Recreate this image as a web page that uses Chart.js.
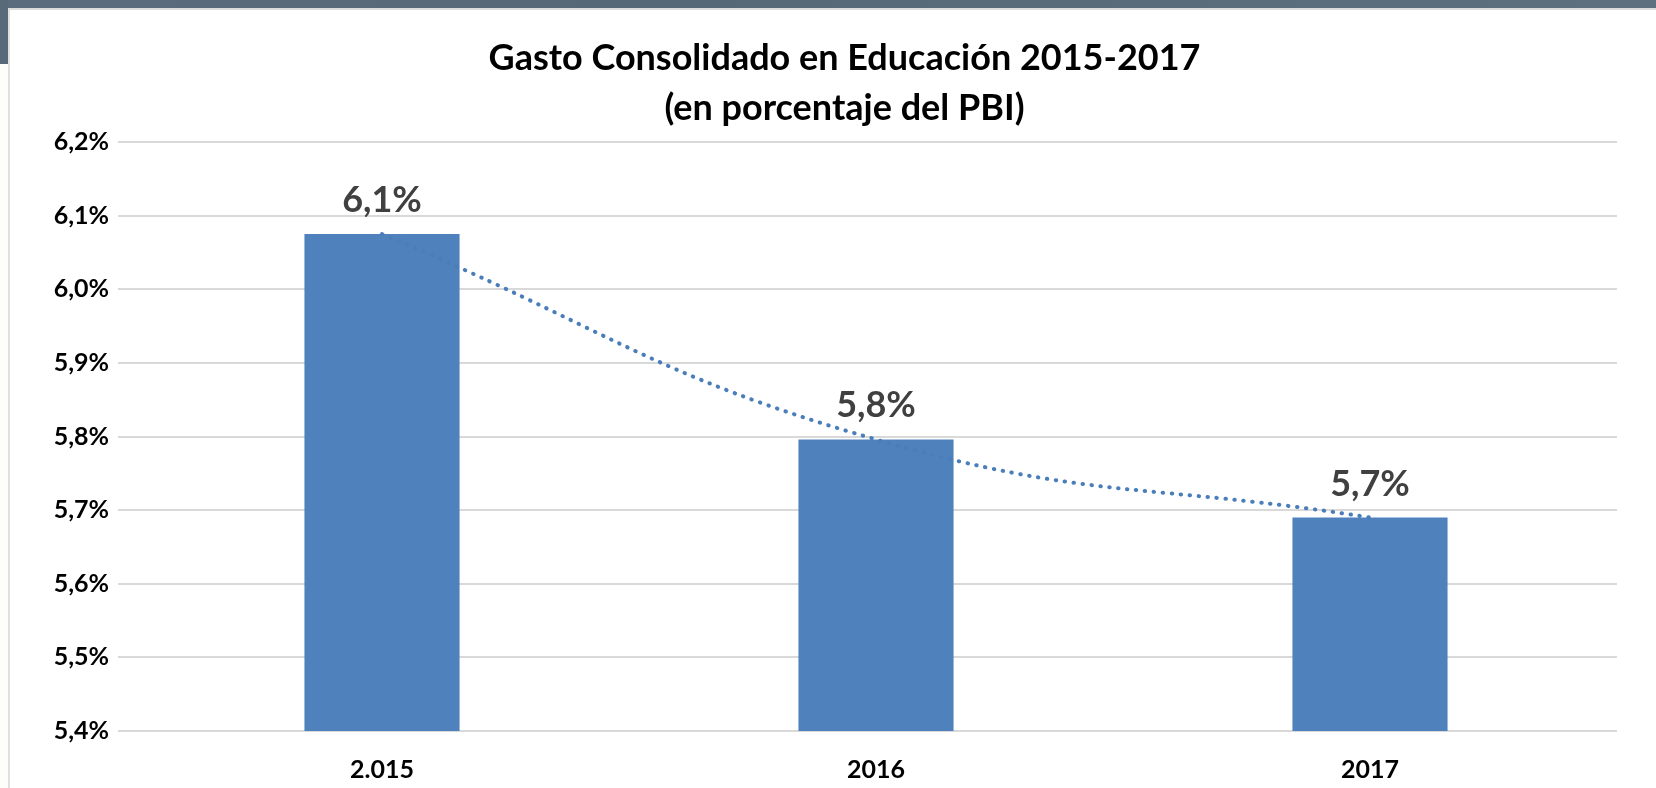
<!DOCTYPE html>
<html>
<head>
<meta charset="utf-8">
<script src="https://cdn.jsdelivr.net/npm/chart.js@4/dist/chart.umd.min.js"></script>
<style>
  html, body { margin: 0; padding: 0; background: #fdfdfb; }
  .wrap { position: relative; width: 1656px; height: 788px; overflow: hidden; }
  .topbar { position: absolute; left: 0; top: 0; width: 1656px; height: 8px; background: linear-gradient(90deg, #5a6c7d, #556878 40%, #5d7080); }
  .sidebar { position: absolute; left: 0; top: 0; width: 8px; height: 64px; background: #58697a; }
  .frame { position: absolute; left: 8px; top: 8px; right: -4px; bottom: -4px; background: #fff; border-left: 2px solid #e0e0e0; border-top: 2px solid #dcdcdc; }
  canvas { position: absolute; left: 0; top: 0; }
</style>
</head>
<body>
<div class="wrap">
  <div class="topbar"></div>
  <div class="sidebar"></div>
  <div class="frame"></div>
  <canvas id="chart" width="1656" height="788"></canvas>
</div>
<script>
const categories = ['2.015', '2016', '2017'];
const gastoPBI = [6.075, 5.796, 5.690];
const yTicks = [5.4, 5.5, 5.6, 5.7, 5.8, 5.9, 6.0, 6.1, 6.2];

const pct = (v) => v.toFixed(1).replace('.', ',') + '%';

// etiquetas de valor encima de cada barra
const barLabels = {
  id: 'barLabels',
  afterLayout(chart) {
    // el título del original está algo corrido a la derecha
    chart.titleBlock.left += 16;
    chart.titleBlock.right += 16;
  },
  afterDatasetsDraw(chart) {
    const ctx = chart.ctx;
    const meta = chart.getDatasetMeta(1);
    ctx.save();
    ctx.font = 'bold 36px Lato';
    ctx.fillStyle = '#404040';
    ctx.textAlign = 'center';
    ctx.textBaseline = 'alphabetic';
    meta.data.forEach((bar, i) => {
      ctx.fillText(pct(gastoPBI[i]), bar.x, bar.y - 22);
    });
    ctx.restore();
  }
};

const ctx = document.getElementById('chart').getContext('2d');
new Chart(ctx, {
  data: {
    labels: categories,
    datasets: [
      {
        type: 'line',
        label: 'Tendencia',
        data: gastoPBI,
        borderColor: '#4a7ebb',
        borderWidth: 4,
        borderDash: [0.5, 8.5],
        borderCapStyle: 'round',
        tension: 0.45,
        pointRadius: 0,
        fill: false,
        order: 0,
      },
      {
        type: 'bar',
        label: 'Gasto consolidado',
        data: gastoPBI,
        backgroundColor: '#4f81bd',
        borderWidth: 0,
        barPercentage: 0.314,
        categoryPercentage: 1,
        order: 1,
      },
    ],
  },
  plugins: [barLabels],
  options: {
    responsive: false,
    animation: false,
    layout: { padding: { left: 40, right: 39, top: 0, bottom: 4 } },
    plugins: {
      legend: { display: false },
      tooltip: { enabled: false },
      title: {
        display: true,
        text: ['Gasto Consolidado en Educación 2015-2017', '(en porcentaje del PBI)'],
        color: '#000',
        font: { family: 'Lato', size: 36, weight: 'bold', lineHeight: 1.39 },
        padding: { top: 33, bottom: 9 },
      },
    },
    scales: {
      x: {
        afterFit(scale) { scale.height = 53; },
        grid: { display: false, drawTicks: false },
        border: { display: false },
        ticks: {
          color: '#000',
          padding: 24,
          font: { family: 'Lato', size: 25, weight: 'bold' },
        },
      },
      y: {
        min: 5.4,
        max: 6.2,
        afterFit(scale) { scale.width = 95; },
        afterBuildTicks(scale) { scale.ticks = yTicks.map((v) => ({ value: v })); },
        grid: { color: '#d9d9d9', lineWidth: 2, drawTicks: true, tickLength: 17 },
        border: { display: false },
        ticks: {
          color: '#000',
          padding: 9,
          font: { family: 'Lato', size: 25, weight: 'bold' },
          callback: (v) => pct(v),
        },
      },
    },
  },
});
</script>
</body>
</html>
